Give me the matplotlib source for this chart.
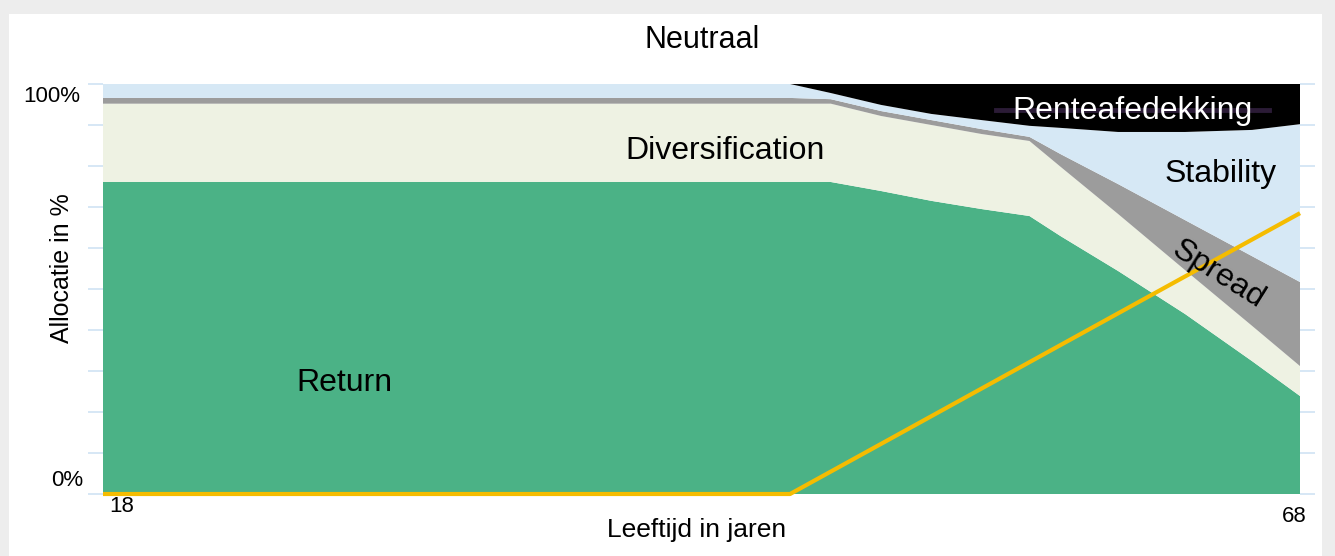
import numpy as np
import matplotlib
matplotlib.use("Agg")
import matplotlib.pyplot as plt
from matplotlib.patches import Rectangle

plt.rcParams['font.family'] = ['Liberation Sans', 'DejaVu Sans']

# leeftijd (x) en aandeel per bouwsteen in %
ages = [18, 46.7, 48.4, 50.5, 52.6, 54.7, 56.7, 58.0, 60.4, 63.2, 66.0, 68]
return_share = [76.1, 76.1, 76.1, 73.9, 71.5, 69.5, 67.8, 62.9, 54.4, 43.9, 32.4, 23.9]
diversification = [19.1, 19.1, 19.1, 18.3, 18.5, 18.3, 18.3, 16.9, 13.9, 10.7, 8.6, 7.3]
spread = [1.4, 1.4, 1.1, 1.2, 1.2, 1.2, 1.0, 3.1, 7.3, 12.2, 17.0, 20.5]
stability = [3.4, 3.4, 1.5, 1.5, 1.5, 2.2, 2.7, 6.4, 12.7, 21.5, 30.8, 38.5]
renteafdekking = [0, 0, 2.2, 5.1, 7.3, 8.8, 10.2, 10.7, 11.7, 11.7, 11.2, 9.8]

# gele lijn
line_ages = [18, 46.7, 68]
line_vals = [0, 0, 68.5]

colors = ['#4BB286', '#EEF2E3', '#9C9C9C', '#D6E8F5', '#000000']

W, H = 1335, 556
fig = plt.figure(figsize=(W / 100, H / 100), dpi=100, facecolor='#EDEDED')
fig.patches.append(Rectangle((9 / W, 0), (1322 - 9) / W, (H - 14) / H,
                             transform=fig.transFigure, facecolor='white',
                             edgecolor='none', zorder=-10))

ax = fig.add_axes([103 / W, 62 / H, (1300 - 103) / W, (494 - 84) / H])
ax.set_zorder(1)
ax.set_facecolor('white')
ax.stackplot(ages, return_share, diversification, spread, stability, renteafdekking,
             colors=colors, linewidth=0)
ax.plot(line_ages, line_vals, color='#F5BC00', lw=3, solid_capstyle='butt',
        zorder=5, clip_on=False)

ax.set_xlim(18, 68)
ax.set_ylim(0, 100)
for s in ax.spines.values():
    s.set_visible(False)
ax.set_xticks([])
ax.set_yticks(np.arange(0, 101, 10))
ax.tick_params(axis='y', which='both', direction='out', length=11, width=1.2,
               color='#CFE3F3', left=True, right=True, labelleft=False, labelright=False)

# labels in het vlak
ax.plot([55.3, 66.7], [93.6, 93.6], color='#2B1B36', lw=3.5, zorder=6)
ax.text(61.0, 93.4, 'Renteafedekking', color='white', fontsize=23,
        ha='center', va='center', zorder=7)
ax.text(64.7, 78.0, 'Stability', fontsize=23, ha='center', va='center', zorder=7)
ax.text(64.6, 53.4, 'Spread', fontsize=23, ha='center', va='center',
        rotation=-32, zorder=7)
ax.text(28.1, 27.1, 'Return', fontsize=23, ha='center', va='center', zorder=7)
ax.text(44.0, 83.7, 'Diversification', fontsize=23, ha='center', va='center', zorder=7)

# assen-teksten
fig.text(80 / W, 1 - 97 / H, '100%', fontsize=16, ha='right', va='center')
fig.text(83 / W, 1 - 481 / H, '0%', fontsize=16, ha='right', va='center')
fig.text(122 / W, 1 - 507 / H, '18', fontsize=16, ha='center', va='center')
fig.text(1294 / W, 1 - 517 / H, '68', fontsize=16, ha='center', va='center')
fig.text(62 / W, 1 - 268 / H, 'Allocatie in %', fontsize=18, rotation=90,
         ha='center', va='center')
fig.text(697 / W, 1 - 530 / H, 'Leeftijd in jaren', fontsize=19,
         ha='center', va='center')
fig.text(702 / W, 1 - 40 / H, 'Neutraal', fontsize=22, ha='center', va='center')

fig.savefig('out.png', dpi=100, facecolor=fig.get_facecolor())
